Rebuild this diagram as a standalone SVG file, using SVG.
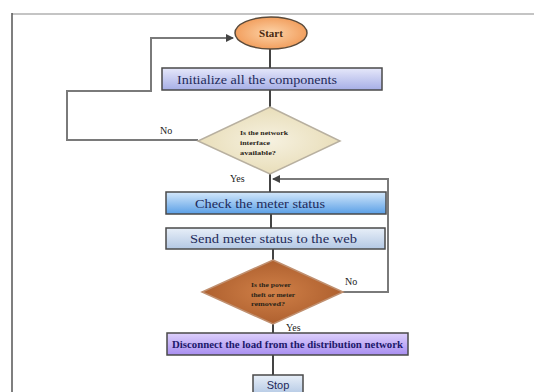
<svg xmlns="http://www.w3.org/2000/svg" width="534" height="392" viewBox="0 0 534 392">
<defs>
<radialGradient id="gStart" cx="50%" cy="50%" r="60%">
<stop offset="0" stop-color="#fcd3a8"/><stop offset="1" stop-color="#f09550"/>
</radialGradient>
<linearGradient id="gInit" x1="0" y1="0" x2="0" y2="1">
<stop offset="0" stop-color="#e6e8fa"/><stop offset="1" stop-color="#a6aee6"/>
</linearGradient>
<linearGradient id="gCheck" x1="0" y1="0" x2="0" y2="1">
<stop offset="0" stop-color="#d4e8fb"/><stop offset="1" stop-color="#5a9fe6"/>
</linearGradient>
<linearGradient id="gSend" x1="0" y1="0" x2="0" y2="1">
<stop offset="0" stop-color="#e8eff8"/><stop offset="1" stop-color="#b3c8e4"/>
</linearGradient>
<linearGradient id="gDisc" x1="0" y1="0" x2="0" y2="1">
<stop offset="0" stop-color="#ddd0fb"/><stop offset="1" stop-color="#a88ef0"/>
</linearGradient>
<radialGradient id="gD1" cx="50%" cy="50%" r="60%">
<stop offset="0" stop-color="#f6f1e0"/><stop offset="1" stop-color="#e6dab2"/>
</radialGradient>
<radialGradient id="gD2" cx="50%" cy="50%" r="60%">
<stop offset="0" stop-color="#d08048"/><stop offset="1" stop-color="#a85a2a"/>
</radialGradient>
<marker id="arr" markerWidth="8" markerHeight="8" refX="7" refY="4" orient="auto" markerUnits="userSpaceOnUse">
<path d="M0,0 L8,4 L0,8 z" fill="#444"/>
</marker>
<style>
.box{stroke:#4a4a4a;stroke-width:1.5}
.lbl{font-family:"Liberation Serif","Times New Roman",serif;fill:#1e2a5a}
.small{font-family:"Liberation Serif",serif;font-weight:bold;font-size:7px;fill:#2a2418}
.yn{font-family:"Liberation Serif",serif;font-size:10px;fill:#222}
.conn{fill:none;stroke:#444;stroke-width:2}
.loop{fill:none;stroke:#7a7a7a;stroke-width:2}
</style>
</defs>
<rect width="534" height="392" fill="#ffffff"/>
<g id="frame">
<line x1="12" y1="14" x2="534" y2="14" stroke="#c4c4c4" stroke-width="2"/>
<line x1="12" y1="13" x2="12" y2="392" stroke="#555" stroke-width="1.5"/>
</g>
<g id="connectors">
<line class="conn" x1="270" y1="49" x2="270" y2="68"/>
<line class="conn" x1="270" y1="90" x2="270" y2="107"/>
<line class="conn" x1="270" y1="174" x2="270" y2="192"/>
<line class="conn" x1="271" y1="214" x2="271" y2="228"/>
<line class="conn" x1="273" y1="249" x2="273" y2="260"/>
<line class="conn" x1="273" y1="324" x2="273" y2="333"/>
<line class="conn" x1="273" y1="355" x2="273" y2="375"/>
<polyline class="loop" points="198,140 67,140 67,91 151,91 151,38 233,38" marker-end="url(#arr)"/>
<polyline class="loop" points="343,292 388,292 388,179 273,179" marker-end="url(#arr)"/>
</g>
<g id="start">
<ellipse cx="271" cy="33" rx="36" ry="16" fill="url(#gStart)" stroke="#5a4a3a" stroke-width="1.5"/>
<text x="271" y="37" text-anchor="middle" font-family="Liberation Serif,serif" font-weight="bold" font-size="11" fill="#4a2a10">Start</text>
</g>
<g id="init">
<rect class="box" x="162" y="68" width="220" height="22" fill="url(#gInit)"/>
<text class="lbl" x="177" y="84" font-size="13" textLength="160" lengthAdjust="spacingAndGlyphs">Initialize  all  the components</text>
</g>
<g id="d1">
<polygon points="270,107 340,141 270,174 198,141" fill="url(#gD1)" stroke="#b8b0a0" stroke-width="1.5"/>
<text class="small" x="240" y="135" textLength="48" lengthAdjust="spacingAndGlyphs">Is the network</text>
<text class="small" x="240" y="145" textLength="30" lengthAdjust="spacingAndGlyphs">interface</text>
<text class="small" x="240" y="155" textLength="36" lengthAdjust="spacingAndGlyphs">available?</text>
</g>
<text class="yn" x="160" y="134">No</text>
<text class="yn" x="230" y="182" font-size="9">Yes</text>
<g id="check">
<rect class="box" x="166" y="192" width="220" height="22" fill="url(#gCheck)"/>
<text class="lbl" x="195" y="208" font-size="13" textLength="130" lengthAdjust="spacingAndGlyphs">Check the meter  status</text>
</g>
<g id="send">
<rect class="box" x="166" y="228" width="219" height="21" fill="url(#gSend)"/>
<text class="lbl" x="190" y="243" font-size="13" textLength="167" lengthAdjust="spacingAndGlyphs">Send meter  status  to the web</text>
</g>
<g id="d2">
<polygon points="273,260 343,292 273,324 202,292" fill="url(#gD2)" stroke="#c09070" stroke-width="1.5"/>
<text class="small" x="251" y="287" fill="#2a1608" textLength="40" lengthAdjust="spacingAndGlyphs">Is the power</text>
<text class="small" x="251" y="297" fill="#2a1608" textLength="44" lengthAdjust="spacingAndGlyphs">theft or meter</text>
<text class="small" x="251" y="306" fill="#2a1608" textLength="34" lengthAdjust="spacingAndGlyphs">removed?</text>
</g>
<text class="yn" x="345" y="285">No</text>
<text class="yn" x="286" y="331" font-size="9">Yes</text>
<g id="disconnect">
<rect class="box" x="167" y="333" width="241" height="22" fill="url(#gDisc)"/>
<text x="172" y="348" font-family="Liberation Serif,serif" font-weight="bold" font-size="10.5" fill="#20186a" textLength="231" lengthAdjust="spacingAndGlyphs">Disconnect the load from the distribution network</text>
</g>
<g id="stop">
<rect class="box" x="253" y="375" width="50" height="20" fill="url(#gSend)"/>
<text x="278" y="389" text-anchor="middle" font-family="Liberation Sans,Arial,sans-serif" font-size="11" fill="#1e2a5a">Stop</text>
</g>
</svg>
